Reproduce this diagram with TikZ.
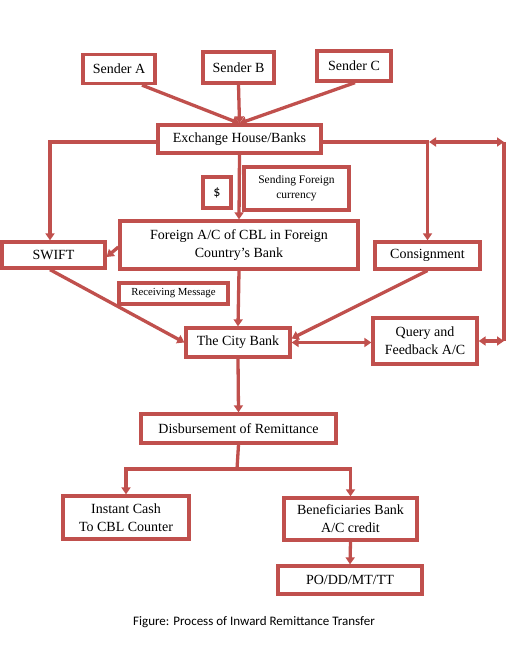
\documentclass[tikz,border=0pt]{standalone}
\usepackage{fontspec}
\setmainfont{Liberation Serif}
\newfontfamily\capfont{Carlito}
\usetikzlibrary{arrows.meta,calc}
\definecolor{acc}{HTML}{C0504D}
\begin{document}
\begin{tikzpicture}[x=1pt,y=-1pt,
  box/.style={draw=acc,line width=3.3pt,fill=white,inner sep=0pt,align=center,font=\fontsize{14}{18}\selectfont},
  conn/.style={draw=acc,line width=3.3pt},
  arr/.style={conn,-{Triangle[length=7pt,width=9pt]}},
  darr/.style={conn,{Triangle[length=7pt,width=9pt]}-{Triangle[length=7pt,width=9pt]}}]
\useasboundingbox (0,0) rectangle (506,650);
% nodes
\node[box,minimum width=72pt,minimum height=29pt] (sA) at (119,69) {Sender A};
\node[box,minimum width=71pt,minimum height=31pt] (sB) at (238.5,67.5) {Sender B};
\node[box,minimum width=74pt,minimum height=30pt] (sC) at (354,66) {Sender C};
\node[box,minimum width=163pt,minimum height=28pt] (ex) at (239.5,139) {Exchange House/Banks};
\node[box,minimum width=28pt,minimum height=31pt,font=\capfont\fontsize{14}{14}\selectfont] (dol) at (217,192.5) {\$};
\node[box,minimum width=105pt,minimum height=43pt,font=\fontsize{11.5}{15}\selectfont] (sfc) at (296.5,188.5) {Sending Foreign\\currency};
\node[box,minimum width=238pt,minimum height=48pt] (fac) at (239,245) {Foreign A/C of CBL in Foreign\\Country's Bank};
\node[box,minimum width=103pt,minimum height=26pt] (swift) at (53.5,255) {SWIFT};
\node[box,minimum width=105pt,minimum height=27pt] (cons) at (427.5,255.5) {Consignment};
\node[box,minimum width=109pt,minimum height=21pt,font=\fontsize{10.8}{13}\selectfont] (rm) at (173.5,293.5) {Receiving Message};
\node[box,minimum width=104pt,minimum height=29pt] (city) at (238,342.5) {The City Bank};
\node[box,minimum width=104pt,minimum height=46pt] (qf) at (425,341) {Query and\\Feedback A/C};
\node[box,minimum width=195pt,minimum height=29pt] (dis) at (238.5,428.5) {Disbursement of Remittance};
\node[box,minimum width=126pt,minimum height=43pt] (ic) at (126,517.5) {Instant Cash\\To CBL Counter};
\node[box,minimum width=133pt,minimum height=42pt] (ben) at (350.5,519) {Beneficiaries Bank\\A/C credit};
\node[box,minimum width=144pt,minimum height=28pt] (po) at (350,580) {PO/DD/MT/TT};
\node[font=\capfont\fontsize{13}{15}\selectfont] (cap) at (254,622) {Figure: Process of Inward Remittance Transfer};
% coordinates
\coordinate (tl) at (429,142);
\coordinate (tr) at (504,142);
\coordinate (br) at (504,341);
\coordinate (j) at (237,469);
% connectors
\draw[arr] ([xshift=23pt]sA.south) -- (ex.north);
\draw[arr] (sB.south) -- (ex.north);
\draw[arr] ([xshift=1pt]sC.south) -- (ex.north);
\draw[arr] ([yshift=-3pt]ex.west) -| ([xshift=-3.5pt]swift.north);
\draw[arr] ([yshift=-3pt]ex.east) -| (cons.north);
\draw[darr] (tl) -- (tr);
\draw[conn] (tr) -- (br);
\draw[darr] (qf.east) -- (br);
\draw[arr] (ex.south) -- (fac.north);
\draw[arr] ([yshift=-2pt]fac.west) -- ([yshift=-2pt]swift.east);
\draw[arr] ([xshift=-3.5pt]swift.south) -- (city.west);
\draw[arr] (fac.south) -- (city.north);
\draw[arr] (cons.south) -- ([yshift=4pt]city.east);
\draw[darr] (city.east) -- (city.east -| qf.west);
\draw[arr] (city.south) -- (dis.north);
\draw[conn] (dis.south) -- (j);
\draw[arr] (j) -| (ic.north);
\draw[arr] (j) -| (ben.north);
\draw[arr] (ben.south) -- (po.north);
\end{tikzpicture}
\end{document}
